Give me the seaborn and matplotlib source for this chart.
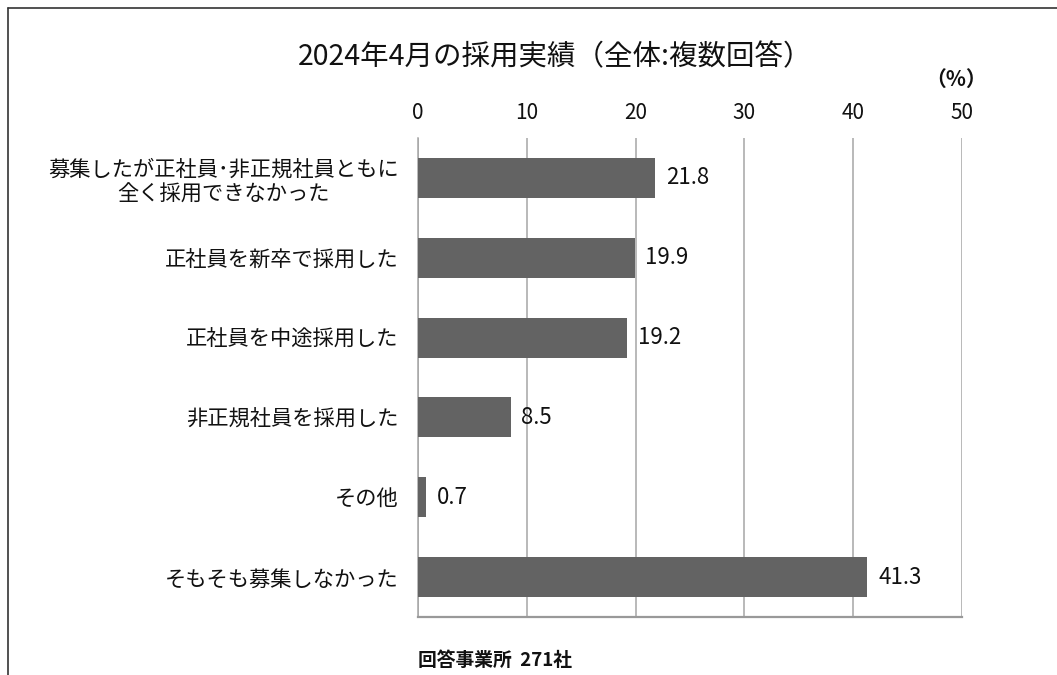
import matplotlib
matplotlib.use("Agg")
import matplotlib.pyplot as plt
from matplotlib.lines import Line2D
import seaborn as sns
import pandas as pd

categories = [
    "募集したが正社員･非正規社員ともに\n全く採用できなかった",
    "正社員を新卒で採用した",
    "正社員を中途採用した",
    "非正規社員を採用した",
    "その他",
    "そもそも募集しなかった",
]
values = [21.8, 19.9, 19.2, 8.5, 0.7, 41.3]
x_ticks = [0, 10, 20, 30, 40, 50]

title = "2024年4月の採用実績（全体:複数回答）"
unit_label = "（%）"
footnote = "回答事業所  271社"

sns.set_style("white")
plt.rcParams["font.family"] = ["Noto Sans CJK JP", "DejaVu Sans"]

df = pd.DataFrame({"category": categories, "value": values})

fig = plt.figure(figsize=(10.57, 6.75), dpi=100)
ax = fig.add_axes([0.3955, 0.0859, 0.5146, 0.7097])

sns.barplot(data=df, x="value", y="category", orient="h", color="#636363",
            width=0.5, saturation=1, linewidth=0, ax=ax, zorder=3)

ax.set_xlim(0, 50)
ax.set_xticks(x_ticks)
ax.set_xticklabels([str(t) for t in x_ticks], fontsize=15, color="#111111")
ax.xaxis.tick_top()
ax.tick_params(axis="x", length=0, pad=10)
ax.tick_params(axis="y", length=0, pad=14, labelsize=15.3, labelcolor="#111111")
for lbl in ax.get_yticklabels():
    lbl.set_multialignment("center")
ax.set_xlabel("")
ax.set_ylabel("")

ax.grid(axis="x", color="#a6a6a6", linewidth=1.1, zorder=0)
ax.grid(axis="y", visible=False)
for side in ["top", "right"]:
    ax.spines[side].set_visible(False)
ax.spines["left"].set_color("#a6a6a6")
ax.spines["left"].set_linewidth(1.1)
ax.spines["bottom"].set_color("#999999")
ax.spines["bottom"].set_linewidth(1.6)

for i, v in enumerate(values):
    ax.text(v + 1.0, i, f"{v:.1f}", va="center", ha="left",
            fontsize=16, color="#111111", zorder=4)

fig.text(0.525, 0.9156, title, ha="center", va="center",
         fontsize=20.5, color="#111111")
fig.text(0.905, 0.882, unit_label, ha="center", va="center",
         fontsize=15, fontweight="bold", color="#111111")
fig.text(0.3955, 0.021, footnote, ha="left", va="center",
         fontsize=13.5, fontweight="bold", color="#111111")

# outer frame (left and top edges)
fx = 8 / 1057
fy = 1 - 8 / 675
fig.add_artist(Line2D([fx, fx], [0, fy], transform=fig.transFigure,
                      color="#333333", linewidth=1.2))
fig.add_artist(Line2D([fx, 1], [fy, fy], transform=fig.transFigure,
                      color="#333333", linewidth=1.2))

fig.savefig("out.png", dpi=100)
